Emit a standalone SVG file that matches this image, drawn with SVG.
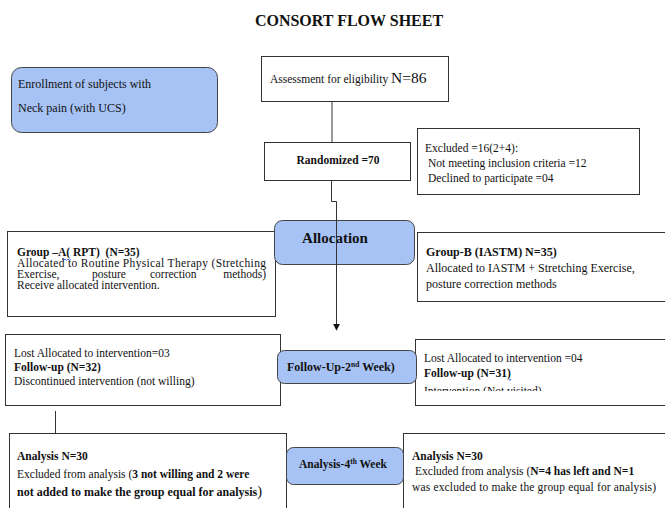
<svg xmlns="http://www.w3.org/2000/svg" width="665" height="508" viewBox="0 0 665 508" font-family="'Liberation Serif', 'Times New Roman', 'DejaVu Serif', serif">
<style>
text, tspan{font-family:'Liberation Serif','Times New Roman','DejaVu Serif',serif;fill:#111;}
.t{font-size:11.5px;}
.b{font-weight:bold;}
.box{fill:#fff;stroke:#333;stroke-width:1;}
.blue{fill:#a7c3f5;stroke:#444;stroke-width:1;}
.ln{fill:none;stroke:#333;stroke-width:1;}
.sq{fill:none;stroke:#2255dd;stroke-width:0.8;}
</style>
<defs>
<marker id="arr" viewBox="0 0 10 10" refX="9" refY="5" markerWidth="7" markerHeight="7" orient="auto" markerUnits="userSpaceOnUse">
<path d="M0,0 L10,5 L0,10 z" fill="#111"/>
</marker>
<clipPath id="clipFU"><rect x="415" y="339" width="250" height="52"/></clipPath>
</defs>
<text x="349" y="26" text-anchor="middle" class="b" style="font-size:16px">CONSORT FLOW SHEET</text>

<g id="enrollment">
<rect class="blue" x="11.5" y="67.5" width="206" height="65" rx="10"/>
<text x="18" y="88" style="font-size:12px">Enrollment of subjects with</text>
<text x="18" y="112" style="font-size:12px">Neck pain (with UCS)</text>
</g>

<g id="assessment">
<rect class="box" x="261.5" y="56.5" width="187" height="45"/>
<text x="270" y="83" style="font-size:11.5px">Assessment for eligibility <tspan style="font-size:15.5px">N=86</tspan></text>
</g>

<g id="randomized">
<rect class="box" x="264.5" y="142.5" width="146" height="38"/>
<text x="338" y="164" text-anchor="middle" class="t b">Randomized =70</text>
</g>

<g id="excluded">
<rect class="box" x="417.5" y="128.5" width="222" height="66"/>
<text x="425" y="152" class="t">Excluded =16(2+4):</text>
<text x="428" y="167" class="t">Not meeting inclusion criteria =12</text>
<text x="428" y="182" class="t">Declined to participate =04</text>
</g>

<g id="groupA">
<rect class="box" x="7.5" y="231.5" width="268" height="85"/>
<text x="17" y="256" class="t b" xml:space="preserve">Group –A( RPT)  (N=35)</text>
<path class="sq" d="M62,259 l1.5,1.5 l1.5,-1.5 l1.5,1.5 l1.5,-1.5 l1.5,1.5 l1.5,-1.5"/>
<text x="17" y="267" class="t" textLength="249">Allocated to Routine Physical Therapy (Stretching</text>
<text y="278" class="t"><tspan x="17">Exercise,</tspan><tspan x="92">posture</tspan><tspan x="150">correction</tspan></text>
<text x="266" y="278" class="t" text-anchor="end">methods)</text>
<text x="17" y="288.5" class="t">Receive allocated intervention.</text>
</g>

<g id="groupB">
<rect class="box" x="417.5" y="232.5" width="252" height="69"/>
<text x="426" y="256" class="b" style="font-size:12px">Group-B (IASTM) N=35)</text>
<path class="sq" d="M551,257 l1,1.5 l1,-1.5"/>
<text x="426" y="272" style="font-size:12px">Allocated to IASTM + Stretching Exercise,</text>
<text x="426" y="288" style="font-size:12px">posture correction methods</text>
</g>

<g id="followA">
<rect class="box" x="5.5" y="334.5" width="275" height="71"/>
<text x="14" y="357" class="t">Lost Allocated to intervention=03</text>
<text x="14" y="371" class="t b">Follow-up (N=32)</text>
<text x="14" y="385" class="t">Discontinued intervention (not willing)</text>
</g>

<g id="followB">
<rect class="box" x="415.5" y="339.5" width="254" height="66"/>
<text x="424" y="362" class="t">Lost Allocated to intervention =04</text>
<text x="424" y="377" class="t b">Follow-up (N=31)</text>
<path class="sq" d="M509,379 l1,1.5 l1,-1.5"/>
<text x="424" y="395" class="t" clip-path="url(#clipFU)">Intervention (Not visited)</text>
</g>

<g id="analysisA">
<rect class="box" x="9.5" y="433.5" width="277" height="80"/>
<text x="17" y="460" class="t b">Analysis N=30</text>
<text x="17" y="478" class="t">Excluded from analysis (<tspan class="b">3 not willing and 2 were</tspan></text>
<text x="17" y="496" style="font-size:12px"><tspan class="b">not added to make the group equal for analysis</tspan><tspan style="font-size:14.5px">)</tspan></text>
</g>

<g id="analysisB">
<rect class="box" x="403.5" y="433.5" width="266" height="80"/>
<text x="412" y="460" class="t b">Analysis N=30</text>
<text x="415" y="475" class="t">Excluded from analysis (<tspan class="b">N=4 has left and N=1</tspan></text>
<text x="412" y="491" class="t" textLength="244">was excluded to make the group equal for analysis)</text>
</g>

<g id="connectors">
<path class="ln" d="M332,102 V142"/>
<path class="ln" d="M331.5,181 V201.5 H336.5 V330" marker-end="url(#arr)"/>
<path class="ln" d="M55.5,411 V433"/>
</g>

<g id="allocation">
<rect class="blue" x="274.5" y="220.5" width="140" height="44" rx="8"/>
<text x="335" y="243" text-anchor="middle" class="b" style="font-size:15px">Allocation</text>
</g>
<path class="ln" d="M336.5,220 V265"/>

<g id="followup2">
<rect class="blue" x="277.5" y="350.5" width="139" height="33" rx="7"/>
<text x="287" y="371" class="b" style="font-size:12px">Follow-Up-2<tspan style="font-size:7.5px" dy="-4.5">nd</tspan><tspan dy="4.5"> Week)</tspan></text>
</g>

<g id="analysis4">
<rect class="blue" x="286.5" y="447.5" width="117" height="37" rx="7"/>
<text x="343" y="468" text-anchor="middle" class="b" style="font-size:11.5px">Analysis-4<tspan style="font-size:7.5px" dy="-4.5">th</tspan><tspan dy="4.5"> Week</tspan></text>
</g>
</svg>
